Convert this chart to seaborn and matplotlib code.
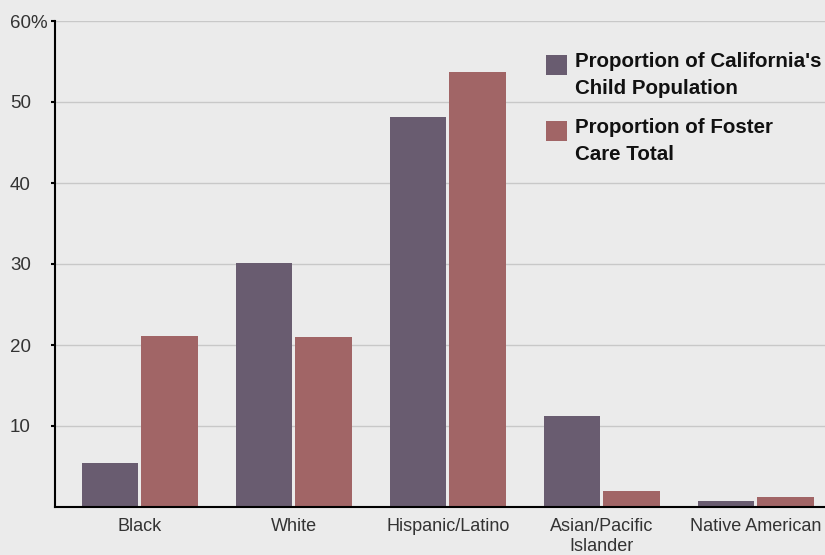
import pandas as pd
import seaborn as sns
import matplotlib.pyplot as plt
import matplotlib.patches as mpatches
from matplotlib.legend_handler import HandlerPatch

groups = ['Black', 'White', 'Hispanic/Latino', 'Asian/Pacific\nIslander', 'Native American']
child_pop = [5.4, 30.1, 48.1, 11.2, 0.7]
foster_care = [21.1, 21.0, 53.7, 2.0, 1.2]
series = ["Proportion of California's\nChild Population", 'Proportion of Foster\nCare Total']

df = pd.DataFrame({
    'group': groups * 2,
    'value': child_pop + foster_care,
    'series': [series[0]] * len(groups) + [series[1]] * len(groups),
})

sns.set_theme(style='white')
plt.rcParams['font.family'] = ['Liberation Sans', 'DejaVu Sans']

fig = plt.figure(figsize=(8.25, 5.55), dpi=100, facecolor='#ebebeb')
ax = fig.add_axes([55 / 825, 48 / 555, 770 / 825, 486 / 555])
ax.set_facecolor('#ebebeb')

sns.barplot(data=df, x='group', y='value', hue='series', ax=ax,
            palette=['#695c70', '#a16566'], width=0.77, gap=0.05,
            saturation=1, edgecolor='none', linewidth=0)

ax.set_xlim(-0.55, 4.45)
ax.set_ylim(0, 60)
ax.set_yticks([10, 20, 30, 40, 50, 60])
ax.set_yticklabels(['10', '20', '30', '40', '50', '60%'])
ax.yaxis.grid(True, color='#c8c8c8', linewidth=1)
ax.set_axisbelow(True)
ax.set_xlabel('')
ax.set_ylabel('')

for s in ['top', 'right']:
    ax.spines[s].set_visible(False)
ax.spines['left'].set_color('black')
ax.spines['left'].set_linewidth(1.5)
ax.spines['bottom'].set_color('black')
ax.spines['bottom'].set_linewidth(1.5)

ax.tick_params(axis='y', length=3, width=1.5, color='black', left=True,
               labelsize=13.5, labelcolor='#333333', pad=29.5)
for lbl in ax.get_yticklabels():
    lbl.set_horizontalalignment('left')
ax.tick_params(axis='x', length=0, labelsize=13, labelcolor='#333333', pad=8)


# legend square sits next to the first line of each label
def top_square(legend, orig_handle, xdescent, ydescent, width, height, fontsize):
    return mpatches.Rectangle((-xdescent, -ydescent + 0.5 * fontsize), width, height)


handles, labels = ax.get_legend_handles_labels()
leg = ax.legend(handles, labels, loc='upper left', bbox_to_anchor=(546 / 825, 1 - 52 / 555),
                bbox_transform=fig.transFigure, frameon=False, borderpad=0, borderaxespad=0,
                prop={'weight': 'bold', 'size': 14.8}, handlelength=1.0, handleheight=1.1,
                handletextpad=0.4, labelspacing=0.95, labelcolor='#111111',
                handler_map={mpatches.Rectangle: HandlerPatch(patch_func=top_square)})
for t in leg.get_texts():
    t.set_linespacing(1.55)

plt.savefig('out.png', dpi=100, facecolor='#ebebeb')
